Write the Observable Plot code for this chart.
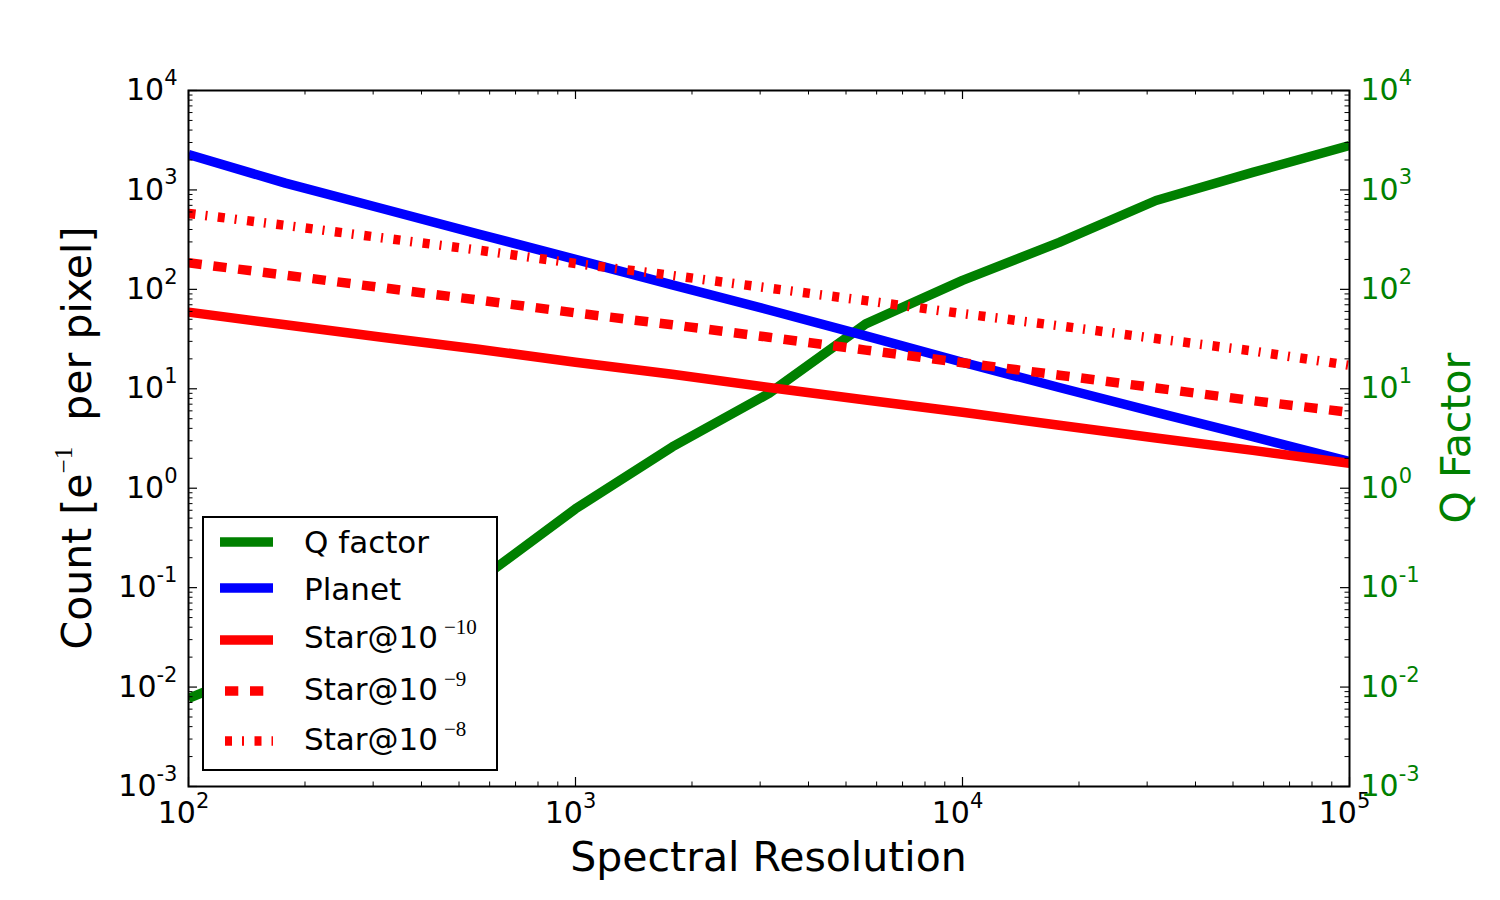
<!DOCTYPE html>
<html><head><meta charset="utf-8">
<script src="https://cdn.jsdelivr.net/npm/d3@7"></script>
<script src="https://cdn.jsdelivr.net/npm/@observablehq/plot@0.6"></script>
<style>body{margin:0;background:#fff}#chart{width:1500px;height:900px}</style>
</head><body><div id="chart"></div>
<script>
// ---- data ----
const resolution = [100, 178, 316, 562, 1000, 1778, 3162, 5623, 10000, 17783, 31623, 56234, 100000];
const planet = [2270, 1170, 650, 360, 200, 111, 62, 34, 18.5, 10.3, 5.8, 3.3, 1.86];
const star10 = [59, 44, 33, 25, 18.5, 14, 10.3, 7.7, 5.8, 4.3, 3.2, 2.4, 1.78];
const star9 = [185, 139, 104, 78, 58, 44, 33, 24.5, 18.3, 13.7, 10.2, 7.6, 5.8];
const star8 = [580, 440, 330, 248, 182, 138, 103, 77, 57, 43, 32, 24, 17.2];
const qResolution = [100, 562, 1000, 1778, 3162, 5623, 10000, 17783, 31623, 56234, 100000];
const qFactor = [0.0077, 0.118, 0.62, 2.6, 9.0, 45, 123, 297, 783, 1500, 2800];
const xTicks = [1e2, 1e3, 1e4, 1e5];
const yTicks = [1e-3, 1e-2, 1e-1, 1e0, 1e1, 1e2, 1e3, 1e4];
const legendLabels = ["Q factor", "Planet", "Star@10", "Star@10", "Star@10"];
const legendExponents = ["", "", "\u221210", "\u22129", "\u22128"];
const xLabel = "Spectral Resolution";
const yRightLabel = "Q Factor";

// ---- styles ----
const seriesStyle = [
  {name: "Q factor", color: "#008000", dash: null},
  {name: "Planet", color: "#0000ff", dash: null},
  {name: "Star@10^-10", color: "#ff0000", dash: null},
  {name: "Star@10^-9", color: "#ff0000", dash: "13.3,11.7"},
  {name: "Star@10^-8", color: "#ff0000", dash: "7,10,2,10.5"}
];
const seriesValues = [null, planet, star10, star9, star8];

const table = [];
qResolution.forEach((r, i) => table.push({series: "Q factor", r, v: qFactor[i]}));
seriesValues.forEach((vals, k) => {
  if (!vals) return;
  resolution.forEach((r, i) => table.push({series: seriesStyle[k].name, r, v: vals[i]}));
});

const minorX = [], minorY = [];
for (let e = 2; e < 5; e++) for (let m = 2; m < 10; m++) minorX.push(m * 10 ** e);
for (let e = -3; e < 4; e++) for (let m = 2; m < 10; m++) minorY.push(m * 10 ** e);

const W = 1500, H = 900, mL = 188, mR = 151, mT = 90, mB = 114;
const FW = W - mL - mR, FH = H - mT - mB;
const expFmt = d => String(Math.round(Math.log10(d)));

const lineMarks = seriesStyle.map(s => Plot.line(table.filter(d => d.series === s.name), {
  x: "r", y: "v", stroke: s.color, strokeWidth: 9.5,
  strokeDasharray: s.dash || undefined, strokeLinecap: "butt", strokeLinejoin: "round", clip: true
}));

const chart = Plot.plot({
  width: W, height: H,
  marginLeft: mL, marginRight: mR, marginTop: mT, marginBottom: mB,
  x: {type: "log", domain: [1e2, 1e5]},
  y: {type: "log", domain: [1e-3, 1e4]},
  style: {fontFamily: "DejaVu Sans", fontSize: "30px", background: "white", color: "black"},
  marks: [
    ...lineMarks,
    Plot.axisX({anchor: "bottom", ticks: xTicks, tickSize: 0, tickPadding: 15, tickFormat: expFmt, label: null, dx: -5}),
    Plot.axisY({anchor: "left", ticks: yTicks, tickSize: 0, tickPadding: 11, tickFormat: expFmt, label: null}),
    Plot.axisY({anchor: "right", ticks: yTicks, tickSize: 0, tickPadding: 11, tickFormat: expFmt, label: null, color: "#008000"}),
    // inward ticks
    Plot.tickY(yTicks, {y: d => d, insetRight: FW - 9, stroke: "black", strokeWidth: 1.2}),
    Plot.tickY(yTicks, {y: d => d, insetLeft: FW - 9, stroke: "black", strokeWidth: 1.2}),
    Plot.tickY(minorY, {y: d => d, insetRight: FW - 4.5, stroke: "black", strokeWidth: 1}),
    Plot.tickY(minorY, {y: d => d, insetLeft: FW - 4.5, stroke: "black", strokeWidth: 1}),
    Plot.tickX(xTicks, {x: d => d, insetTop: FH - 9, stroke: "black", strokeWidth: 1.2}),
    Plot.tickX(xTicks, {x: d => d, insetBottom: FH - 9, stroke: "black", strokeWidth: 1.2}),
    Plot.tickX(minorX, {x: d => d, insetTop: FH - 4.5, stroke: "black", strokeWidth: 1}),
    Plot.tickX(minorX, {x: d => d, insetBottom: FH - 4.5, stroke: "black", strokeWidth: 1}),
    Plot.frame({stroke: "black", strokeWidth: 2})
  ]
});
document.getElementById("chart").appendChild(chart);

const svg = d3.select(chart);
// power-of-ten tick labels
svg.selectAll('g[aria-label="x-axis tick label"] text, g[aria-label="y-axis tick label"] text').each(function () {
  const t = d3.select(this);
  const e = this.textContent.replace("\u2212", "-");
  t.text(null);
  t.append("tspan").text("10");
  t.append("tspan").attr("font-size", "21px").attr("dy", "-0.72em").text(e);
});
svg.selectAll('g[aria-label="y-axis tick label"]').filter(function () {
  return this.getAttribute("text-anchor") === "start";
}).attr("fill", "#008000").selectAll("text").attr("fill", "#008000");

// axis titles
svg.append("text").attr("x", (mL + W - mR) / 2).attr("y", 871).attr("text-anchor", "middle")
  .attr("font-family", "DejaVu Sans").attr("font-size", 41).attr("fill", "black").text(xLabel);
const yl = svg.append("text").attr("transform", `translate(91,${mT + FH / 2}) rotate(-90)`)
  .attr("text-anchor", "middle").attr("font-family", "DejaVu Sans").attr("font-size", 41).attr("fill", "black");
yl.append("tspan").text("Count [e");
yl.append("tspan").attr("font-family", "Liberation Serif").attr("font-size", 25).attr("dy", -19).text("\u22121");
yl.append("tspan").attr("dy", 19).text("\u00a0 per pixel]");
svg.append("text").attr("transform", `translate(1470,${mT + FH / 2}) rotate(-90)`)
  .attr("text-anchor", "middle").attr("font-family", "DejaVu Sans").attr("font-size", 41).attr("fill", "#008000").text(yRightLabel);

// legend
const lg = svg.append("g").attr("text-anchor", "start");
lg.append("rect").attr("x", 203).attr("y", 517).attr("width", 294).attr("height", 253)
  .attr("fill", "white").attr("stroke", "black").attr("stroke-width", 2);
const rowY = [542, 588, 640, 691, 741];
const baseY = [553, 600, 648, 700, 750];
seriesStyle.forEach((s, i) => {
  lg.append("line").attr("x1", s.dash ? 225 : 220).attr("x2", 273).attr("y1", rowY[i]).attr("y2", rowY[i])
    .attr("stroke", s.color).attr("stroke-width", 9.5).attr("stroke-dasharray", s.dash || null);
  const t = lg.append("text").attr("x", 304).attr("y", baseY[i]).attr("text-anchor", "start")
    .attr("font-family", "DejaVu Sans").attr("font-size", 31).attr("fill", "black");
  t.append("tspan").text(legendLabels[i]);
  if (legendExponents[i]) t.append("tspan").attr("font-family", "Liberation Serif").attr("font-size", 21)
    .attr("dx", 6).attr("dy", -14).text(legendExponents[i]);
});
</script></body></html>
